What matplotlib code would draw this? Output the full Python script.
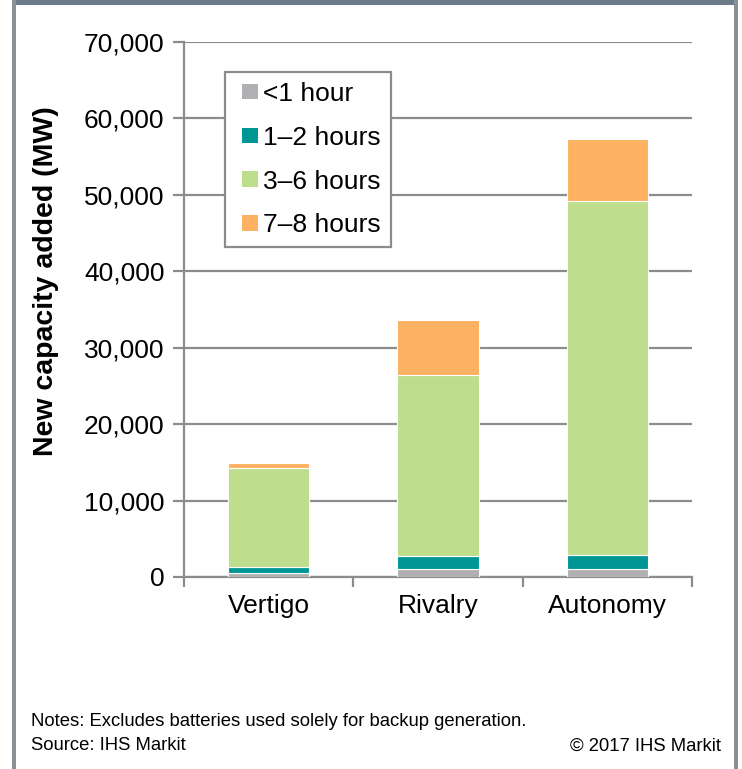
import matplotlib
matplotlib.use("Agg")
import matplotlib.pyplot as plt
from matplotlib.patches import Rectangle
from matplotlib.container import BarContainer
from matplotlib.legend_handler import HandlerPatch
from matplotlib.ticker import FuncFormatter
import numpy as np

plt.rcParams["font.family"] = ["Liberation Sans", "DejaVu Sans"]

# capacidade nova por cenário (MW), empilhada por duração
cenarios = ["Vertigo", "Rivalry", "Autonomy"]
duracoes = ["<1 hour", "1\u20132 hours", "3\u20136 hours", "7\u20138 hours"]
menos_1h = [480, 1050, 1050]
h1_2 = [880, 1740, 1870]
h3_6 = [12900, 23600, 46300]
h7_8 = [640, 7200, 8100]
cores = ["#B0B0B3", "#009694", "#BEDD8D", "#FDB163"]

series = [menos_1h, h1_2, h3_6, h7_8]

W, H = 742, 769
fig = plt.figure(figsize=(W / 100, H / 100), dpi=100)
ax = fig.add_axes([184 / W, 1 - 577 / H, (692 - 184) / W, (577 - 42) / H])

x = np.arange(len(cenarios))
base = np.zeros(len(cenarios))
for vals, nome, cor in zip(series, duracoes, cores):
    ax.bar(x, vals, width=0.48, bottom=base, color=cor, label=nome,
           edgecolor="white", linewidth=0.8, zorder=3)
    base += np.array(vals)

grid_c = "#8C8C8C"
ax.set_ylim(0, 70000)
ax.set_xlim(-0.5, len(cenarios) - 0.5)
ax.set_yticks(np.arange(0, 70001, 10000))
ax.yaxis.set_major_formatter(FuncFormatter(lambda v, p: f"{int(v):,}"))
ax.grid(axis="y", color=grid_c, linewidth=1.6, zorder=0)

# rótulos das categorias centrados, marcas nas divisões
ax.set_xticks(np.arange(-0.5, len(cenarios)), labels=[""] * (len(cenarios) + 1))
ax.set_xticks(x, labels=cenarios, minor=True)
ax.tick_params(axis="x", which="major", length=7, width=1.6, color=grid_c)
ax.tick_params(axis="x", which="minor", length=0, labelsize=19, pad=12)
ax.tick_params(axis="y", length=8, width=1.6, color=grid_c, labelsize=19, pad=6)

for s in ["top", "right"]:
    ax.spines[s].set_visible(False)
for s in ["left", "bottom"]:
    ax.spines[s].set_color(grid_c)
    ax.spines[s].set_linewidth(1.6)

ax.set_ylabel("New capacity added (MW)", fontsize=20.5, fontweight="bold")
ax.yaxis.set_label_coords(-0.246, 0.553)


# quadradinho da legenda encostado à direita da caixa do marcador
def quadrado(legend=None, orig_handle=None, xdescent=0, ydescent=0,
             width=0, height=0, fontsize=0):
    return Rectangle((width - height - xdescent, -ydescent), height, height)


def cor_da_barra(leg_patch, orig):
    leg_patch.set_facecolor(orig[0].get_facecolor())
    leg_patch.set_edgecolor("none")


leg = ax.legend(loc="upper left", bbox_to_anchor=(225 / W, 1 - 72 / H),
                bbox_transform=fig.transFigure, borderaxespad=0, fontsize=19,
                handlelength=0.87, handleheight=0.53, handletextpad=0.2,
                labelspacing=0.75, borderpad=0.38, fancybox=False, framealpha=1,
                handler_map={BarContainer: HandlerPatch(patch_func=quadrado,
                                                        update_func=cor_da_barra)})
leg.get_frame().set_edgecolor(grid_c)
leg.get_frame().set_linewidth(1.6)

# moldura da figura
fig.add_artist(Rectangle((12 / W, 1 - 5 / H), (738 - 12) / W, 5 / H,
                         transform=fig.transFigure, color="#6C7A8A", lw=0))
fig.add_artist(Rectangle((12 / W, 0), 4 / W, 1, transform=fig.transFigure,
                         color="#8A9094", lw=0))
fig.add_artist(Rectangle((734 / W, 0), 4 / W, 1, transform=fig.transFigure,
                         color="#8A9094", lw=0))

fig.text(31 / W, 1 - 722 / H, "Notes: Excludes batteries used solely for backup generation.",
         fontsize=13.3, va="center", ha="left")
fig.text(31 / W, 1 - 746 / H, "Source: IHS Markit", fontsize=13.3, va="center", ha="left")
fig.text(721 / W, 1 - 746 / H, "\u00a9 2017 IHS Markit", fontsize=13.3, va="center", ha="right")

fig.savefig("out.png", dpi=100)
